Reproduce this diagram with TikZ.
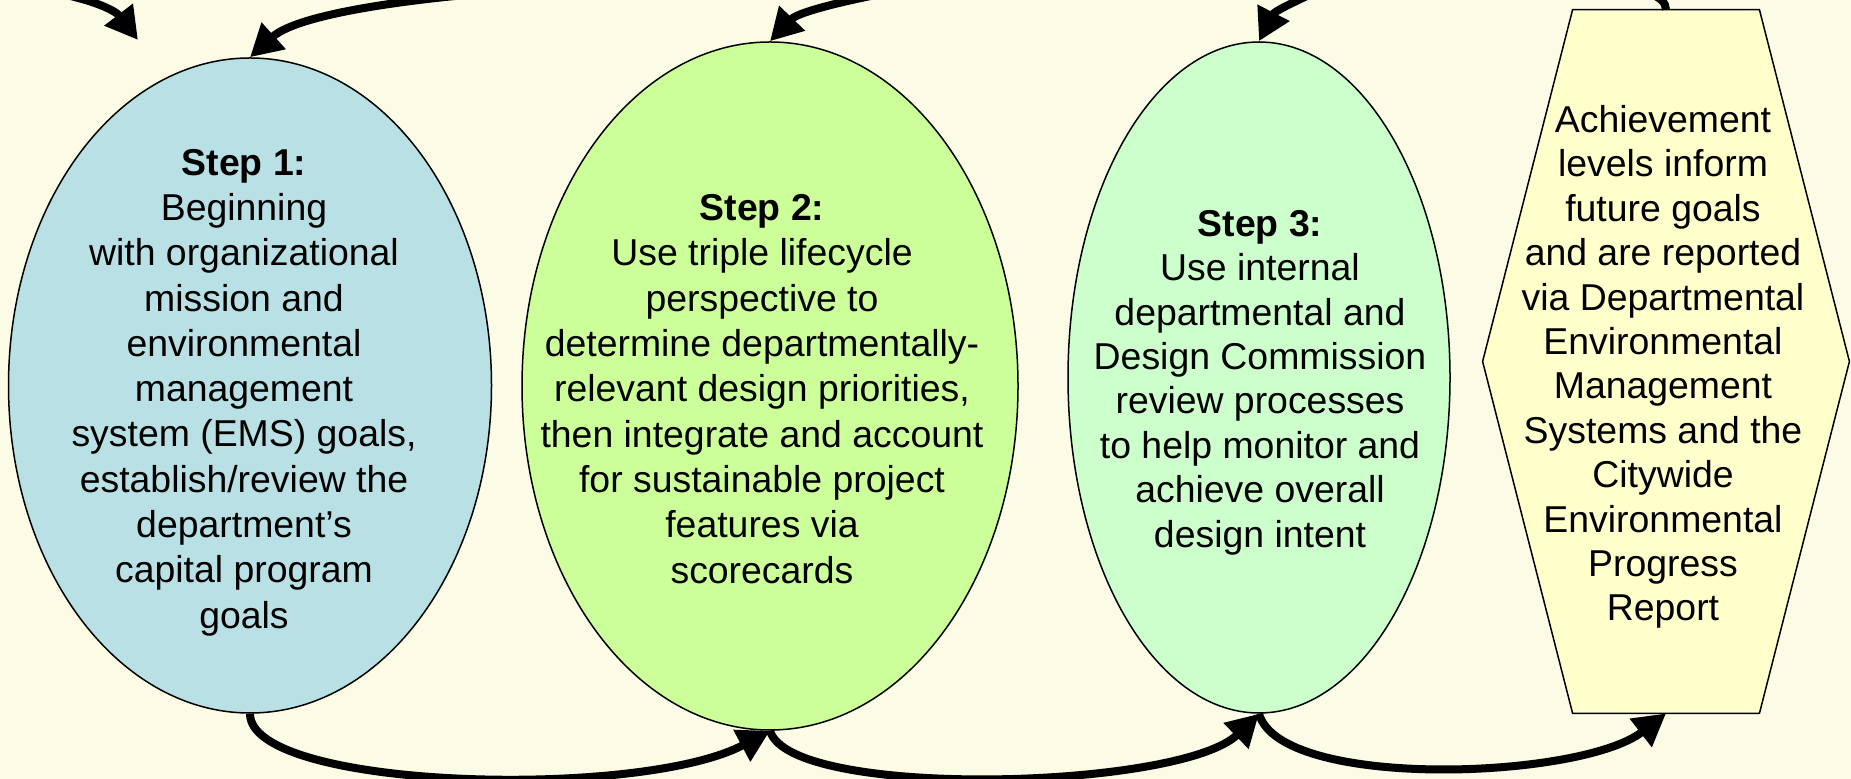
\documentclass[tikz,border=0pt]{standalone}
\usepackage{fontspec}
\setmainfont{Liberation Sans}
\usetikzlibrary{arrows.meta,shapes.geometric}
\definecolor{bg}{HTML}{FCFBE6}
\definecolor{cone}{HTML}{B9E0E4}
\definecolor{ctwo}{HTML}{CCFF99}
\definecolor{cthree}{HTML}{CCFFCC}
\definecolor{chex}{HTML}{FFFFCC}
\begin{document}
\begin{tikzpicture}[x=0.5pt,y=-0.5pt,
  stepell/.style={ellipse, draw=black, line width=0.75pt, inner sep=0pt},
  txt/.style={align=center, font=\fontsize{18.7pt}{22.65pt}\selectfont, inner sep=0pt},
  txtb/.style={align=center, font=\fontsize{18.7pt}{22.2pt}\selectfont, inner sep=0pt},
  flow/.style={line width=4pt, -{Triangle[length=16pt,width=17pt]}},
  plainflow/.style={line width=4pt}]
\path[use as bounding box, fill=bg] (0,0) rectangle (1851,779);
\clip (0,0) rectangle (1851,779);
% shapes
\node[stepell, fill=cone, minimum width=241.5pt, minimum height=327.5pt] (e1) at (250,385.5) {};
\node[stepell, fill=ctwo, minimum width=248pt, minimum height=344pt] (e2) at (770,386) {};
\node[stepell, fill=cthree, minimum width=191pt, minimum height=335.5pt] (e3) at (1259,377.5) {};
\node[inner sep=0pt, minimum width=183pt, minimum height=351.5pt] (hex) at (1666,361.5) {};
\draw[fill=chex, line width=0.75pt]
  ([xshift=45pt]hex.north west) -- ([xshift=-45pt]hex.north east) -- (hex.east)
  -- ([xshift=-45pt]hex.south east) -- ([xshift=45pt]hex.south west) -- (hex.west) -- cycle;
% texts
\node[txt] (t1) at (244,392.5) {\textbf{Step 1:}\\Beginning\\with organizational\\mission and\\environmental\\management\\system (EMS) goals,\\establish/review the\\department’s\\capital program\\goals};
\node[txt] (t2) at (762,389) {\textbf{Step 2:}\\Use triple lifecycle\\perspective to\\determine departmentally-\\relevant design priorities,\\then integrate and account\\for sustainable project\\features via\\scorecards};
\node[txtb] (t3) at (1260,382.5) {\textbf{Step 3:}\\Use internal\\departmental and\\Design Commission\\review processes\\to help monitor and\\achieve overall\\design intent};
\node[txtb] (t4) at (1663,367) {Achievement\\levels inform\\future goals\\and are reported\\via Departmental\\Environmental\\Management\\Systems and the\\Citywide\\Environmental\\Progress\\Report};
% bottom connectors
\draw[flow] (e1.south) .. controls (250,790) and (640,800) .. (e2.south);
\draw[flow] (e2.south) .. controls (790,800) and (1180,790) .. (e3.south);
\draw[flow] (e3.south) .. controls (1280,790) and (1580,780) .. (hex.south);
% top connectors (partly outside the frame)
\coordinate (a0) at (40,-10);
\coordinate (a0end) at (138,40);
\coordinate (a1) at (560,-12);
\coordinate (a2) at (930,-15);
\coordinate (a3) at (1340,-20);
\coordinate (a4) at (1600,-15);
\draw[flow] (a0) .. controls (90,-2) and (115,10) .. (a0end);
\draw[flow] (a1) .. controls (430,-5) and (300,12) .. (e1.north);
\draw[flow] (a2) .. controls (870,-5) and (800,10) .. (e2.north);
\draw[flow] (a3) .. controls (1310,-5) and (1275,10) .. (e3.north);
\draw[plainflow] (hex.north) .. controls (1666,-5) and (1640,-12) .. (a4);
\end{tikzpicture}
\end{document}
